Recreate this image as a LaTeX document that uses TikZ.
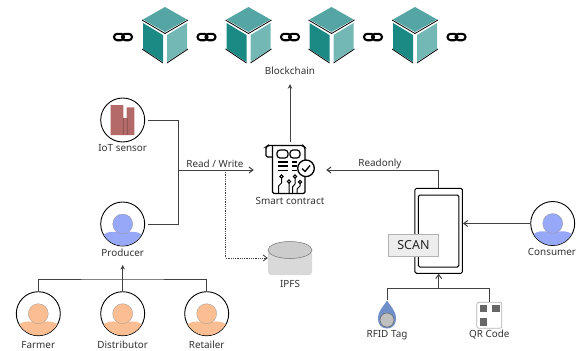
\documentclass[tikz,border=0pt]{standalone}
\usepackage{fontspec}
\setmainfont{Noto Sans}
\usepackage{tikz}
\usetikzlibrary{arrows.meta}

\definecolor{cubeleft}{HTML}{1B8A85}
\definecolor{cubetop}{HTML}{54A5A3}
\definecolor{cuberight}{HTML}{74B8B6}
\definecolor{userblue}{HTML}{97A8F8}
\definecolor{userorange}{HTML}{FBBE92}
\definecolor{sensorred}{HTML}{B56A6A}
\definecolor{tagblue}{HTML}{6F8FC8}

\tikzset{
    label/.style={font=\fontsize{9.9}{11}\selectfont, text=black!80, inner sep=0pt},
    user/.style={circle, draw, line width=0.9pt, minimum size=44pt, inner sep=0pt},
    wire/.style={draw=black!75, line width=1pt},
    pics/person/.style={code={
        \fill[#1] (-19,10.5) .. controls (-15,7.5) and (-10,7.5) .. (-6,8) -- (6,8)
            .. controls (10,7.5) and (15,7.5) .. (19,10.5)
            arc[start angle=29, end angle=151, radius=21.7];
        \draw[black!40, line width=0.3pt, fill=#1] (0,0) circle[radius=10];
    }},
    pics/cube/.style={code={
        \fill[cubetop] (0,-29) -- (22,-16.5) -- (0,-4) -- (-22,-16.5) -- cycle;
        \fill[cubeleft] (-22,-13) -- (-2,-1) -- (-2,26) -- (-22,13) -- cycle;
        \fill[cuberight] (22,-13) -- (2,-1) -- (2,26) -- (22,13) -- cycle;
        \draw[line width=0.8pt] (-23,-16) -- (0,-2.5) -- (23,-16);
        \draw[line width=0.8pt] (-23,13) -- (-2,27);
        \draw[line width=0.8pt] (23,13) -- (2,27);
    }},
    pics/chainlink/.style={code={
        \draw[line width=2.1pt, rounded corners=3.2pt] (-9,-3.2) rectangle (1,3.2);
        \draw[line width=2.1pt, rounded corners=3.2pt] (-1,-3.2) rectangle (9,3.2);
    }},
}

\begin{document}
\begin{tikzpicture}[x=1pt, y=-1pt, >={Straight Barb[length=4pt,width=6pt]}]
    \useasboundingbox (0,0) rectangle (582,351);

    % chain
    \foreach \x in {165,248.5,331.5,415}
        \pic at (\x,36) {cube};
    \foreach \x in {123,206.5,290,373,456.5}
        \pic at (\x,37) {chainlink};
    \node[label] (blockchain) at (290,71) {Blockchain};

    % users
    \node[user] (iot) at (122.7,120) {};
    \node[user] (producer) at (122.7,224) {};
    \node[user] (farmer) at (38.3,313.7) {};
    \node[user] (distributor) at (122.7,313.7) {};
    \node[user] (retailer) at (206.7,313.7) {};
    \node[user] (consumer) at (552.7,223.5) {};
    \pic at (producer) {person=userblue};
    \pic at (consumer) {person=userblue};
    \pic at (farmer) {person=userorange};
    \pic at (distributor) {person=userorange};
    \pic at (retailer) {person=userorange};

    % sensor
    \fill[sensorred] (110.7,105) -- (123.3,105) -- (123.3,118) -- (126.7,118) -- (126.7,107.3)
        -- (134.3,107.3) -- (134.3,135) -- (110.7,135) -- cycle;
    \draw[sensorred!80!black, line width=0.3pt] (123.3,118) -- (123.3,135) (126.7,118) -- (126.7,135);

    \node[label] at (122.7,148) {IoT sensor};
    \node[label] at (122.7,253) {Producer};
    \node[label] at (38.3,345) {Farmer};
    \node[label] at (122.7,345) {Distributor};
    \node[label] at (206.7,345) {Retailer};
    \node[label] at (552,252) {Consumer};

    % smart contract
    \node[minimum width=72pt, minimum height=56pt, inner sep=0pt] (contract) at (290,170) {};
    \draw[line width=1.3pt, rounded corners=1.5pt] (272.5,157) -- (266,157) -- (266,147) -- (268,145.5)
        -- (303,145.5) -- (305,147.5) -- (305,160);
    \draw[line width=1.3pt, rounded corners=1.5pt] (272.5,146) -- (272.5,193.5) -- (305,193.5) -- (305,176.5);
    \draw[line width=1.2pt, rounded corners=3pt] (277,150) rectangle (288,158);
    \draw[line width=1.2pt, rounded corners=3pt] (290,150) rectangle (300,158);
    \draw[line width=1.1pt] (277.5,162) -- (288,162) (292,162) -- (296.5,162)
        (277.5,166) -- (288,166) (292,166) -- (296.5,166)
        (277.5,170.5) -- (288,170.5) (292,170.5) -- (296.5,170.5);
    \draw[line width=1.3pt, fill=white] (306,168.3) circle[radius=8.3];
    \draw[line width=1.3pt] (302,168.5) -- (305,171.5) -- (310,165.5);
    \draw[line width=1pt] (281.5,178) -- (281.5,183) -- (278.5,186) -- (278.5,193)
        (289,183) -- (289,193) (295,178) -- (295,184) -- (292.5,187) -- (292.5,193)
        (300,183) -- (300,186) -- (297,189) -- (297,193);
    \foreach \x/\y in {281.5/176.5,289/181.5,295/176.5,300/182}
        \draw[line width=1pt, fill=white] (\x,\y) circle[radius=1.6];

    \node[label] at (290,200.5) {Smart contract};
    \node[label] at (215,164) {Read / Write};
    \node[label] at (380,164) {Readonly};

    % IPFS
    \node[minimum width=44pt, minimum height=34pt, inner sep=0pt] (ipfs) at (290,258) {};
    \fill[black!15, rounded corners=3pt] (268,250) -- (268,275) -- (312,275) -- (312,250) -- cycle;
    \draw[black!55, line width=0.5pt, fill=black!20] (290,250) ellipse[x radius=22, y radius=8.5];
    \node[label] at (290,284) {IPFS};

    % phone
    \node[draw, line width=1pt, rounded corners=1.5pt, minimum width=47.5pt, minimum height=85pt, inner sep=0pt] (phone) at (438.7,230.8) {};
    \node[draw, line width=1pt, rounded corners=1.5pt, minimum width=40.5pt, minimum height=72pt, inner sep=0pt] (screen) at (438.7,231) {};
    \node[draw=black!30, fill=black!7, line width=0.6pt, minimum width=50pt, minimum height=22.5pt, inner sep=0pt,
        font=\fontsize{12.5}{13}\selectfont, text=black!85] (scan) at (413.5,245.5) {SCAN};

    % tags
    \node[minimum width=18pt, minimum height=28pt, inner sep=0pt] (rfid) at (387,314.5) {};
    \fill[tagblue] (387,300.5) .. controls (390,306) and (396,310) .. (396,319)
        .. controls (396,325) and (392,328.5) .. (387,328.5)
        .. controls (382,328.5) and (378,325) .. (378,319)
        .. controls (378,310) and (384,306) .. (387,300.5) -- cycle;
    \draw[black!60, fill=black!25, line width=0.5pt] (387,320) circle[radius=7];
    \node[draw=black!30, fill=white, line width=0.7pt, rounded corners=2pt, minimum width=25pt, minimum height=26pt, inner sep=0pt] (qr) at (489.3,315.3) {};
    \foreach \x/\y in {483.3/308.5,496/308.5,483.3/322}
        \fill[black!60] (\x-3.7,\y-3.7) rectangle (\x+3.7,\y+3.7);
    \node[label] at (387,335) {RFID Tag};
    \node[label] at (489.3,335) {QR Code};

    % connectors
    \coordinate (scanjoin) at (438.7,288.3);
    \coordinate (userjoin) at (122.7,279);
    \coordinate (rwbend) at (178,170);
    \coordinate (dotjoin) at (225.5,170);
    \node[minimum height=16pt, minimum width=50pt, inner sep=0pt] (blocklabel) at (290,76) {};

    \draw[wire, -{Stealth[length=4.5pt,width=4.5pt]}] (contract.north) -- (blocklabel.south);
    \draw[wire] (iot.east) ++(3,0) -- ++(30,0) |- (rwbend);
    \draw[wire] (producer.east) ++(3,0) -- ++(30,0) |- (rwbend);
    \draw[wire, ->] (rwbend) -- (contract.west);
    \draw[wire, line width=0.8pt, densely dotted, ->] (dotjoin) |- (ipfs.west);
    \draw[wire, ->] (phone.north) |- (contract.east);
    \draw[wire, ->] (consumer.west) -- (phone.east |- consumer.west);
    \draw[wire, ->] (scanjoin) -- (phone.south);
    \draw[wire] (rfid.north) |- (scanjoin) -| (qr.north);
    \draw[wire, -{Stealth[length=4.5pt,width=4.5pt]}] (distributor.north) -- (122.7,265);
    \draw[wire] (farmer.north) |- (userjoin) -| (retailer.north);
\end{tikzpicture}
\end{document}
